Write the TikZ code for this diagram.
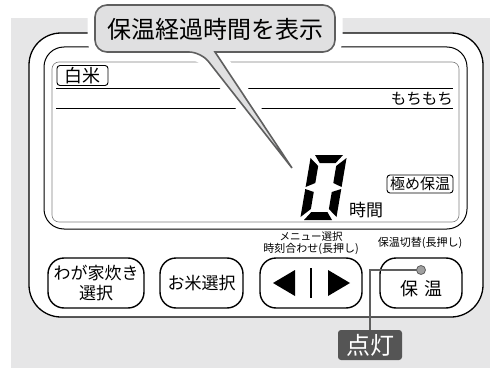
\documentclass[tikz,border=0pt]{standalone}
\usepackage{fontspec}
\setmainfont{Noto Sans CJK JP}
\usepackage{tikz}
\usetikzlibrary{positioning}

\definecolor{panelgray}{RGB}{230,230,231}
\definecolor{bubblegray}{RGB}{224,224,225}
\definecolor{edgegray}{RGB}{95,95,95}
\definecolor{lampgray}{RGB}{160,160,160}
\definecolor{litgray}{RGB}{85,85,85}

\begin{document}
\begin{tikzpicture}[x=1pt,y=-1pt,
  jp/.style={inner sep=0pt,font=\fontsize{#1}{#1}\selectfont},
  btn/.style={draw,line width=1.4pt,rounded corners=16pt,inner sep=0pt}]
  \useasboundingbox (0,0) rectangle (490,369);

  %panel
  \fill[panelgray] (11,18) rectangle (490,368);
  \draw[line width=1.3pt,fill=white,rounded corners=32pt] (29,33) rectangle (483,317);
  \draw[line width=1pt,rounded corners=20pt] (44,47) rectangle (467,229);

  %display
  \draw[gray,line width=0.6pt,rounded corners=7pt] (52,62) rectangle (459,222);
  \draw[line width=0.8pt] (56,88) -- (453,88);
  \draw[line width=0.8pt] (56,108) -- (453,108);

  %callout
  \path[draw=white,line width=15pt] (292,168) -- (215,52) [rounded corners=12pt] -- (335,52) -- (335,5) -- (95,5) -- (95,52) -- (201,52) [sharp corners] -- cycle;
  \draw[fill=bubblegray,draw=edgegray,line width=1.6pt] (292,168) -- (215,52) [rounded corners=12pt] -- (335,52) -- (335,5) -- (95,5) -- (95,52) -- (201,52) [sharp corners] -- cycle;
  \node[jp=24] (title) at (215,29) {保温経過時間を表示};

  %display texts
  \node[draw,rounded corners=3pt,line width=0.9pt,jp=18,minimum width=51pt,minimum height=20pt] (rice) at (82.5,75.5) {白米};
  \node[jp=15.5,anchor=east] (mochi) at (453,99) {もちもち};
  \node[draw,rounded corners=3pt,line width=0.9pt,jp=15,minimum width=66pt,minimum height=18pt] (kiwame) at (420,184) {極め保温};
  \node[jp=17,anchor=west] (jikan) at (349,210) {時間};

  %digit
  \begin{scope}[shift={(300,220)},y=1pt,xslant=0.17]
    \fill (4,65) -- (32,65) -- (26,57) -- (10,57) -- cycle;
    \fill (4,0) -- (32,0) -- (26,8) -- (10,8) -- cycle;
    \fill (0,62) -- (9,54) -- (9,37) -- (0,33) -- cycle;
    \fill (0,31) -- (9,28) -- (9,11) -- (0,3) -- cycle;
    \fill (36,62) -- (27,54) -- (27,37) -- (36,33) -- cycle;
    \fill (36,31) -- (27,28) -- (27,11) -- (36,3) -- cycle;
  \end{scope}

  %key labels
  \node[jp=10.5] (menu) at (311,237) {メニュー選択};
  \node[jp=11,below=1.5pt of menu] (clock) {時刻合わせ(長押し)};
  \node[jp=11] (keep) at (420,243) {保温切替(長押し)};

  %buttons
  \node[btn,minimum width=96pt,minimum height=50pt,align=center,font=\fontsize{17}{20}\selectfont] (b1) at (96,283) {わが家炊き\\選択};
  \node[btn,minimum width=83pt,minimum height=50pt,jp=17] (b2) at (201.5,283) {お米選択};
  \node[btn,minimum width=102pt,minimum height=50pt] (b3) at (311,283) {};
  \fill (273,283) -- (295,270) -- (295,296) -- cycle;
  \fill (350,283) -- (328,270) -- (328,296) -- cycle;
  \draw[line width=2pt] (311,268) -- (311,298);
  \node[btn,minimum width=82pt,minimum height=50pt] (b4) at (421,283) {};
  \node[jp=18] (hoon) at (421.5,289) {保\hspace{6pt}温};

  %lamp
  \node[fill=litgray,rounded corners=3pt,minimum width=64pt,minimum height=30pt,inner sep=0pt,text=white,font=\fontsize{24}{24}\selectfont] (lit) at (370,345) {点灯};
  \draw[edgegray,line width=1.5pt] (421,270) -| (lit.north);
  \node[circle,draw=edgegray,fill=lampgray,line width=0.8pt,minimum size=9pt,inner sep=0pt] (led) at (421,270) {};
\end{tikzpicture}
\end{document}
